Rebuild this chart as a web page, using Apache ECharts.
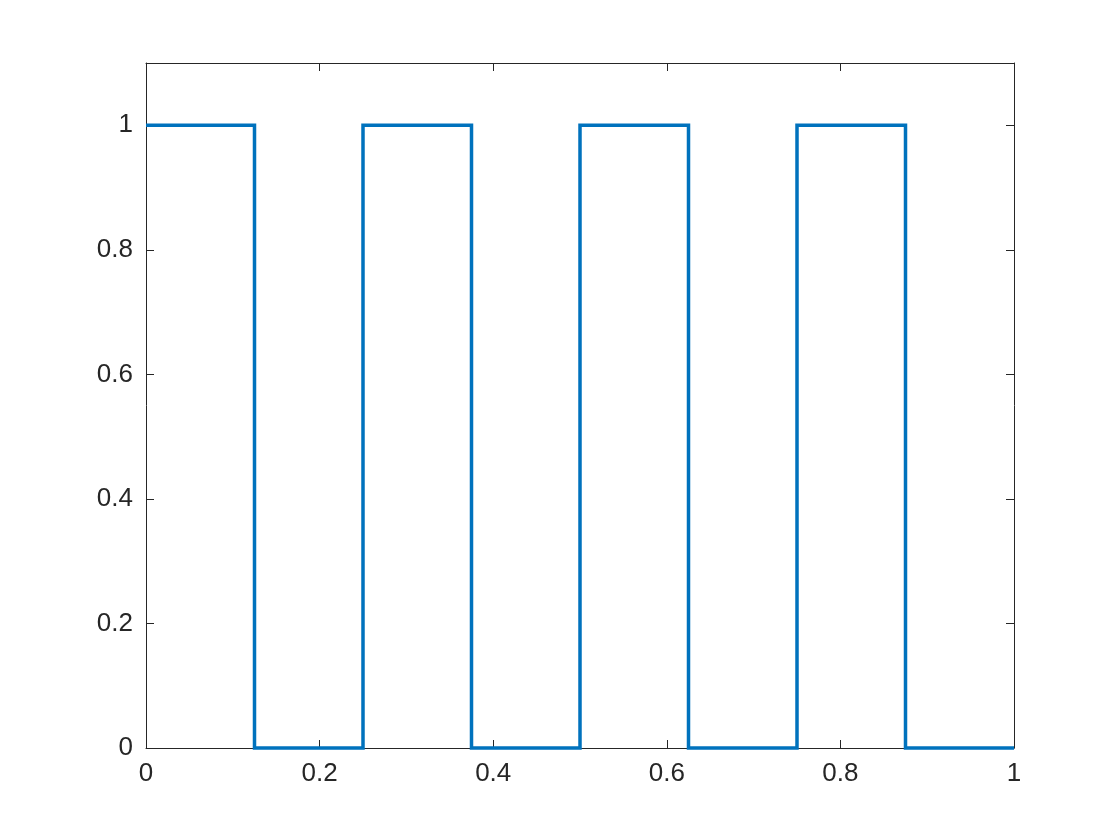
<!DOCTYPE html>
<html>
<head>
<meta charset="utf-8">
<script src="https://cdn.jsdelivr.net/npm/echarts@6/dist/echarts.min.js"></script>
<style>html,body{margin:0;padding:0;background:#fff;}#c{width:1120px;height:840px;}</style>
</head>
<body>
<div id="c"></div>
<script>
// Breakpoints of the square wave (x) and the level held from each breakpoint to the next
const xPoints = [0, 0.125, 0.25, 0.375, 0.5, 0.625, 0.75, 0.875, 1];
const levels  = [1, 0, 1, 0, 1, 0, 1, 0, 0];
const xTicks = [0, 0.2, 0.4, 0.6, 0.8, 1];
const yTicks = [0, 0.2, 0.4, 0.6, 0.8, 1];

const data = xPoints.map((x, i) => [x, levels[i]]);
const axisColor = '#262626';
const font = 'Liberation Sans, Arial, Helvetica, sans-serif';
const fmt = v => String(Math.round(v * 10) / 10);

function xAx(pos, showLabel) {
  return {
    type: 'value', position: pos, min: 0, max: 1, interval: 0.2,
    axisLine: {show: true, onZero: false, lineStyle: {color: axisColor, width: 1}},
    axisTick: {show: true, inside: true, length: 8, lineStyle: {color: axisColor}},
    axisLabel: {show: showLabel, color: axisColor, fontSize: 26, fontFamily: font, margin: 13,
      formatter: v => xTicks.some(t => Math.abs(t - v) < 1e-9) ? fmt(v) : ''},
    splitLine: {show: false}
  };
}
function yAx(pos, showLabel) {
  return {
    type: 'value', position: pos, min: 0, max: 1.1, interval: 0.2,
    axisLine: {show: true, onZero: false, lineStyle: {color: axisColor, width: 1}},
    axisTick: {show: true, inside: true, length: 8, lineStyle: {color: axisColor}},
    axisLabel: {show: showLabel, color: axisColor, fontSize: 26, fontFamily: font, margin: 13,
      formatter: v => yTicks.some(t => Math.abs(t - v) < 1e-9) ? fmt(v) : ''},
    splitLine: {show: false}
  };
}

const chart = echarts.init(document.getElementById('c'), null, {renderer: 'canvas'});
chart.setOption({
  animation: false,
  backgroundColor: '#ffffff',
  grid: {left: 146, right: 106, top: 63, bottom: 92, containLabel: false},
  xAxis: [xAx('bottom', true), xAx('top', false)],
  yAxis: [yAx('left', true), yAx('right', false)],
  series: [{
    type: 'line', xAxisIndex: 0, yAxisIndex: 0,
    data: data, step: 'end', showSymbol: false, clip: false,
    lineStyle: {color: '#0072BD', width: 3.5, join: 'miter'}
  }]
});
</script>
</body>
</html>
